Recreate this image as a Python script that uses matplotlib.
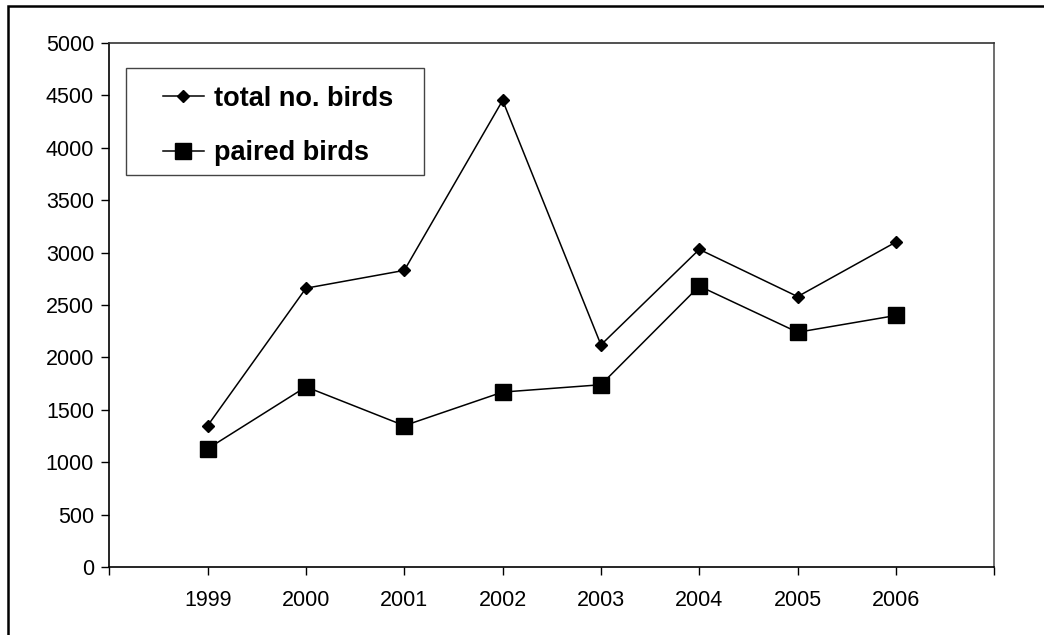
import matplotlib
matplotlib.use("Agg")
import matplotlib.pyplot as plt
from matplotlib.patches import Rectangle

# Bird counts per year
years = ["1999", "2000", "2001", "2002", "2003", "2004", "2005", "2006"]
total_birds = [1350, 2660, 2830, 4450, 2120, 3030, 2580, 3100]
paired_birds = [1130, 1720, 1350, 1670, 1740, 2680, 2240, 2400]

plt.rcParams["font.family"] = ["Liberation Sans", "DejaVu Sans"]

fig = plt.figure(figsize=(10.44, 6.35), dpi=100)
ax = fig.add_axes([0.1047, 0.1066, 0.8477, 0.8262])

x = list(range(1, len(years) + 1))
ax.plot(x, total_birds, color="black", lw=1.1, marker="D", ms=6.5,
        label="total no. birds")
ax.plot(x, paired_birds, color="black", lw=1.1, marker="s", ms=11,
        label="paired birds")

ax.set_xlim(0, len(years) + 1)
ax.set_ylim(0, 5000)
ax.set_yticks(range(0, 5001, 500))
ax.set_xticks(range(0, len(years) + 2))
ax.set_xticklabels([""] + years + [""])

ax.tick_params(axis="both", direction="out", length=6, width=1,
               labelsize=15.5, color="black")
ax.tick_params(axis="x", pad=10)
ax.tick_params(axis="y", pad=5)
for s in ax.spines.values():
    s.set_linewidth(1.2)
ax.spines["top"].set_color("#333333")
ax.spines["right"].set_color("#555555")

# legend entries without their own frame; the box is drawn separately
# so it can have wider side padding than top/bottom
leg = ax.legend(loc="upper left", bbox_to_anchor=(0.0607, 0.918),
                prop={"weight": "bold", "size": 19.5}, frameon=False,
                handlelength=1.5, handletextpad=0.38, labelspacing=1.05,
                borderpad=0, borderaxespad=0)
ax.add_patch(Rectangle((0.0189, 0.7478), 0.3367, 0.204,
                       transform=ax.transAxes, fill=False,
                       edgecolor="#444444", lw=1.0, zorder=5))

# outer chart frame (only its left and top edges fall inside the image)
fig.patches.append(Rectangle((8 / 1044, -0.1), 1.2, 1.1 - 6 / 635,
                             transform=fig.transFigure, fill=False,
                             edgecolor="black", lw=1.8, clip_on=False))

fig.savefig("out.png", dpi=100)
